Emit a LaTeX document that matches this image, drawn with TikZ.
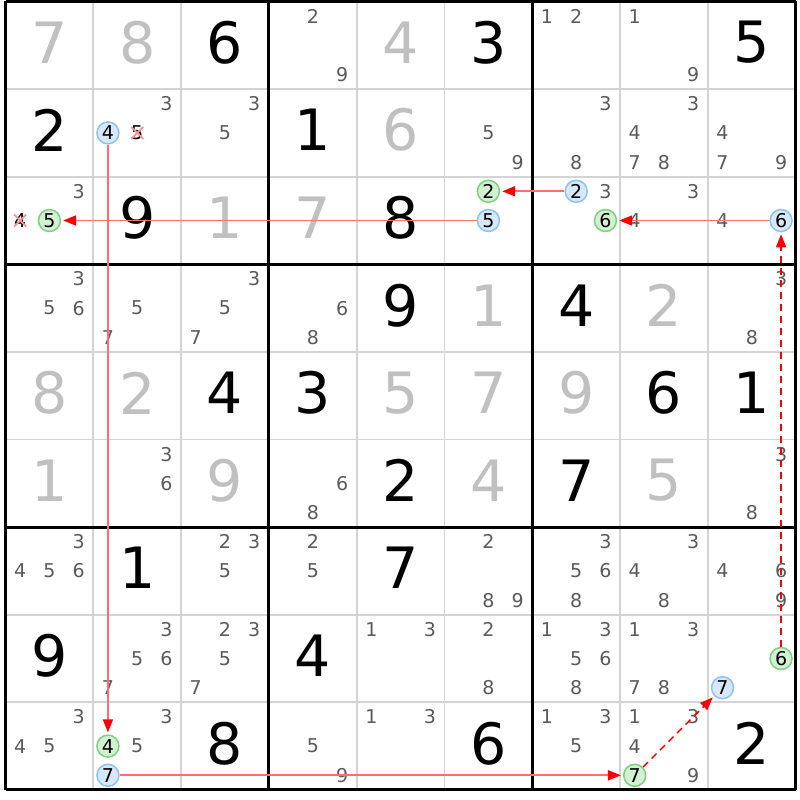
\documentclass[tikz,border=0pt]{standalone}
\usepackage{fontspec}
\setmainfont{DejaVu Sans}
\usetikzlibrary{arrows.meta}
\definecolor{candc}{HTML}{5A5A5A}
\definecolor{solvc}{HTML}{C0C0C0}
\definecolor{thinc}{HTML}{D4D4D4}
\definecolor{bluef}{HTML}{D6E8FB}
\definecolor{blued}{HTML}{8EC2F2}
\definecolor{greenf}{HTML}{D2F0D2}
\definecolor{greend}{HTML}{7ED07E}
\definecolor{linkc}{HTML}{FF6E6E}
\definecolor{crossc}{HTML}{FF9090}
\newcommand\cpos[3]{({5.5+#2*87.8+(mod(#3-1,3)+0.5)*29.2667},{1.5+#1*87.6+(floor((#3-1)/3)+0.5)*29.2})}
\newcommand\cands[3]{\foreach \d in {#3}{\node[cand] (c#1#2\d) at \cpos{#1}{#2}{\d} {\d};}}
\newcommand\hcand[4]{\node[cand,#4] (c#1#2#3) at \cpos{#1}{#2}{#3} {#3};}
\newcommand\xcand[3]{\node[cand,text=black] (c#1#2#3) at \cpos{#1}{#2}{#3} {#3};
  \draw[crossline] ([shift={(-6,-6)}]c#1#2#3.center) -- ([shift={(6,6)}]c#1#2#3.center);
  \draw[crossline] ([shift={(-6,6)}]c#1#2#3.center) -- ([shift={(6,-6)}]c#1#2#3.center);}
\newcommand\givn[3]{\node[bigd,text=black] (g#1#2) at ({5.5+#2*87.8+43.9},{1.5+#1*87.6+41}) {#3};}
\newcommand\solv[3]{\node[bigd,text=solvc] (g#1#2) at ({5.5+#2*87.8+43.9},{1.5+#1*87.6+41}) {#3};}
\begin{document}
\begin{tikzpicture}[x=1pt,y=-1pt,
  cand/.style={font=\fontsize{19}{19}\selectfont, text=candc, inner sep=0pt},
  bigd/.style={font=\fontsize{57}{57}\selectfont, inner sep=0pt},
  hb/.style={circle, draw=blued, fill=bluef, line width=1.5pt, minimum size=22pt, text=black},
  hg/.style={circle, draw=greend, fill=greenf, line width=1.5pt, minimum size=22pt, text=black},
  crossline/.style={draw=crossc, line width=1.8pt},
  thinline/.style={draw=thinc, line width=1.8pt},
  thickline/.style={draw=black, line width=3pt},
  link/.style={draw=linkc, line width=1.8pt, shorten >=2pt, -{Triangle[length=13pt,width=10pt,color=red]}},
  dlink/.style={draw=red, line width=1.5pt, dash pattern=on 7pt off 5pt, shorten >=2pt, -{Triangle[length=13pt,width=10pt,color=red]}}]
\useasboundingbox (0,0) rectangle (800,800);
\fill[white] (0,0) rectangle (800,800);
% grid
\foreach \i in {1,2,4,5,7,8}{
  \draw[thinline] ({5.5+\i*87.8},1.5) -- ({5.5+\i*87.8},789.9);
  \draw[thinline] (5.5,{1.5+\i*87.6}) -- (795.7,{1.5+\i*87.6});
}
\foreach \i in {0,3,6,9}{
  \draw[thickline] ({5.5+\i*87.8},1.5) -- ({5.5+\i*87.8},789.9);
  \draw[thickline] (5.5,{1.5+\i*87.6}) -- (795.7,{1.5+\i*87.6});
}
% row 0
\solv00{7}\solv01{8}\givn02{6}\solv04{4}\givn05{3}\givn08{5}
\cands03{2,9}\cands06{1,2}\cands07{1,9}
% row 1
\givn10{2}\givn13{1}\solv14{6}
\cands11{3}\hcand114{hb}\xcand115
\cands12{3,5}\cands15{5,9}\cands16{3,8}\cands17{3,4,7,8}\cands18{4,7,9}
% row 2
\givn21{9}\solv22{1}\solv23{7}\givn24{8}
\cands20{3}\xcand204\hcand205{hg}
\hcand252{hg}\hcand255{hb}
\cands26{3}\hcand262{hb}\hcand266{hg}
\cands27{3,4}
\cands28{4}\hcand286{hb}
% row 3
\givn34{9}\solv35{1}\givn36{4}\solv37{2}
\cands30{3,5,6}\cands31{5,7}\cands32{3,5,7}\cands33{6,8}\cands38{3,8}
% row 4
\solv40{8}\solv41{2}\givn42{4}\givn43{3}\solv44{5}\solv45{7}\solv46{9}\givn47{6}\givn48{1}
% row 5
\solv50{1}\solv52{9}\givn54{2}\solv55{4}\givn56{7}\solv57{5}
\cands51{3,6}\cands53{6,8}\cands58{3,8}
% row 6
\givn61{1}\givn64{7}
\cands60{3,4,5,6}\cands62{2,3,5}\cands63{2,5}\cands65{2,8,9}\cands66{3,5,6,8}\cands67{3,4,8}\cands68{4,6,9}
% row 7
\givn70{9}\givn73{4}
\cands71{3,5,6,7}\cands72{2,3,5,7}\cands74{1,3}\cands75{2,8}\cands76{1,3,5,6,8}\cands77{1,3,7,8}
\hcand786{hg}\hcand787{hb}
% row 8
\givn82{8}\givn85{6}\givn88{2}
\cands80{3,4,5}\cands81{3,5}\hcand814{hg}\hcand817{hb}
\cands83{5,9}\cands84{1,3}\cands86{1,3,5}\cands87{1,3,4,9}\hcand877{hg}
% links
\draw[link] (c114) -- (c814);
\draw[link] (c817) -- (c877);
\draw[dlink] (c877) -- (c787);
\draw[dlink] (c786) -- (c286);
\draw[link] (c286) -- (c266);
\draw[link] (c262) -- (c252);
\draw[link] (c255) -- (c205);
\end{tikzpicture}
\end{document}
